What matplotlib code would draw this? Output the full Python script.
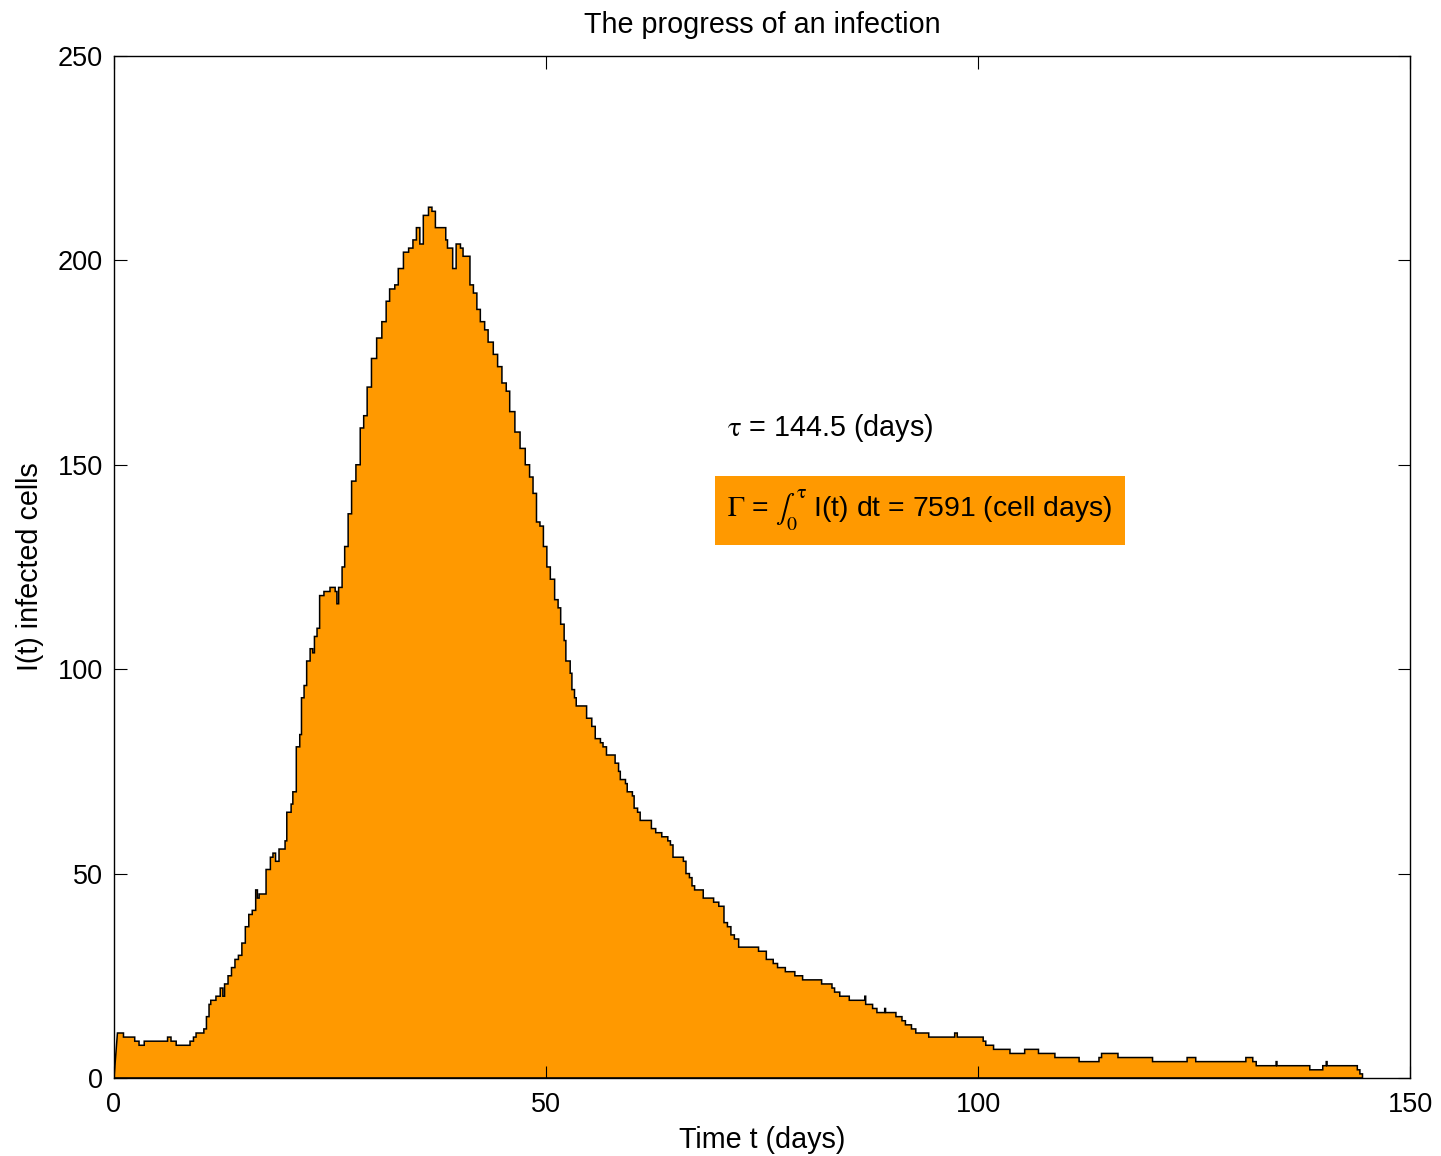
import numpy as np
import matplotlib.pyplot as plt

plt.rcParams['font.family'] = ['Liberation Sans', 'DejaVu Sans']
plt.rcParams['mathtext.fontset'] = 'stix'

# event times (days) and number of infected cells right after each event
event_days = [0.4, 1.1, 2.4, 2.9, 3.5, 6.2, 6.6, 7.2, 8.8, 9.2, 9.5, 10.4, 10.7, 11.0,
              11.2, 11.8, 12.3, 12.6, 12.8, 13.2, 13.6, 14.0, 14.4, 14.8, 15.2, 15.6,
              16.0, 16.4, 16.6, 16.8, 17.1, 17.6, 18.1, 18.4, 18.7, 19.1, 19.8, 20.0,
              20.5, 20.7, 21.1, 21.5, 21.7, 22.0, 22.3, 22.7, 23.0, 23.2, 23.5, 23.8,
              24.3, 25.0, 25.6, 25.8, 26.0, 26.4, 26.7, 27.1, 27.5, 28.0, 28.5, 28.9,
              29.3, 29.8, 30.4, 31.0, 31.5, 31.9, 32.5, 32.9, 33.5, 34.1, 34.6, 35.0,
              35.4, 35.8, 36.4, 36.8, 37.2, 38.4, 38.6, 39.2, 39.6, 40.1, 40.4, 41.2,
              41.6, 42.0, 42.4, 42.9, 43.3, 43.9, 44.4, 44.9, 45.4, 45.8, 46.4, 47.0,
              47.6, 48.1, 48.5, 48.9, 49.3, 49.7, 50.1, 50.5, 51.0, 51.4, 51.7, 52.1,
              52.3, 52.8, 53.0, 53.3, 53.5, 54.7, 55.3, 55.7, 56.3, 56.6, 57.0, 58.0,
              58.4, 58.6, 59.2, 59.4, 60.0, 60.2, 60.6, 60.9, 62.2, 62.7, 63.4, 64.1,
              64.4, 64.7, 65.9, 66.2, 66.6, 66.9, 67.2, 68.2, 69.4, 70.0, 70.6, 71.0,
              71.4, 71.8, 72.3, 74.6, 75.5, 76.3, 76.8, 77.7, 78.8, 79.7, 81.9, 83.1,
              83.4, 84.0, 85.1, 86.9, 87.0, 87.8, 88.3, 89.2, 89.3, 90.5, 91.2, 91.6,
              92.3, 92.8, 94.3, 97.3, 97.6, 100.6, 100.9, 101.8, 103.7, 105.4, 107.0,
              108.9, 111.7, 114.0, 114.3, 116.2, 120.2, 124.2, 125.2, 131.0, 131.8,
              132.2, 134.5, 134.6, 138.4, 139.9, 140.3, 140.4, 143.9, 144.2, 144.5]
infected = [11, 10, 9, 8, 9, 10, 9, 8, 9, 10, 11, 12, 15, 18,
            19, 20, 22, 20, 23, 25, 27, 29, 30, 33, 37, 40,
            41, 46, 44, 45, 45, 51, 54, 55, 53, 56, 58, 65,
            67, 70, 81, 84, 93, 96, 102, 105, 104, 108, 110, 118,
            119, 120, 119, 116, 120, 125, 130, 138, 146, 150, 159, 162,
            169, 176, 181, 185, 190, 193, 194, 198, 202, 203, 205, 208,
            204, 211, 213, 212, 208, 205, 203, 198, 204, 203, 201, 194,
            192, 188, 185, 183, 180, 177, 174, 170, 168, 163, 158, 154,
            150, 147, 143, 136, 135, 130, 125, 122, 117, 115, 111, 107,
            102, 99, 95, 93, 91, 88, 86, 83, 82, 81, 79, 77,
            75, 73, 72, 70, 69, 66, 65, 63, 61, 60, 59, 58,
            57, 54, 53, 50, 49, 47, 46, 44, 43, 42, 38, 37,
            35, 34, 32, 31, 29, 28, 27, 26, 25, 24, 23, 22,
            21, 20, 19, 20, 18, 17, 16, 17, 16, 15, 14, 13,
            12, 11, 10, 11, 10, 9, 8, 7, 6, 7, 6,
            5, 4, 5, 6, 5, 4, 5, 4, 5, 4,
            3, 4, 3, 2, 3, 4, 3, 2, 1, 0]

tau = 144.5
gamma = 7591

t = np.array(event_days)
n = np.array(infected)
# staircase that holds each count until the next event, starting at (0, 0)
x = np.concatenate([[0], np.repeat(t, 2)[1:]])
y = np.concatenate([[0], np.repeat(n, 2)[:-1]])

orange = '#FF9900'

fig = plt.figure(figsize=(14.41, 11.56), dpi=100)
ax = fig.add_axes([0.0791, 0.0675, 0.8994, 0.8841])

ax.fill(x, y, facecolor=orange, edgecolor='black', linewidth=1.1)

ax.set_xlim(0, 150)
ax.set_ylim(0, 250)
ax.set_xticks([0, 50, 100, 150])
ax.set_yticks([0, 50, 100, 150, 200, 250])
ax.tick_params(direction='in', length=9, width=0.8, top=True, right=True, labelsize=19.5)
ax.tick_params(axis='x', pad=10)
ax.tick_params(axis='y', pad=8)
for s in ax.spines.values():
    s.set_linewidth(1.0)

ax.set_title('The progress of an infection', fontsize=20.7, pad=16.5)
ax.set_xlabel('Time t (days)', fontsize=20.7, labelpad=6)
ax.set_ylabel('I(t) infected cells', fontsize=20.7, labelpad=10)

ax.text(71, 159, r'$\mathrm{\tau}$ = %.1f (days)' % tau, fontsize=20.7, va='center', ha='left')
ax.text(71, 138.8, r'$\Gamma$ = $\int_0^{\mathrm{\tau}}$ I(t) dt = %d (cell days)' % gamma,
        fontsize=20.4, va='center', ha='left',
        bbox=dict(boxstyle='square,pad=0.43', facecolor=orange, edgecolor='none'))

fig.savefig('out.png', dpi=100)
